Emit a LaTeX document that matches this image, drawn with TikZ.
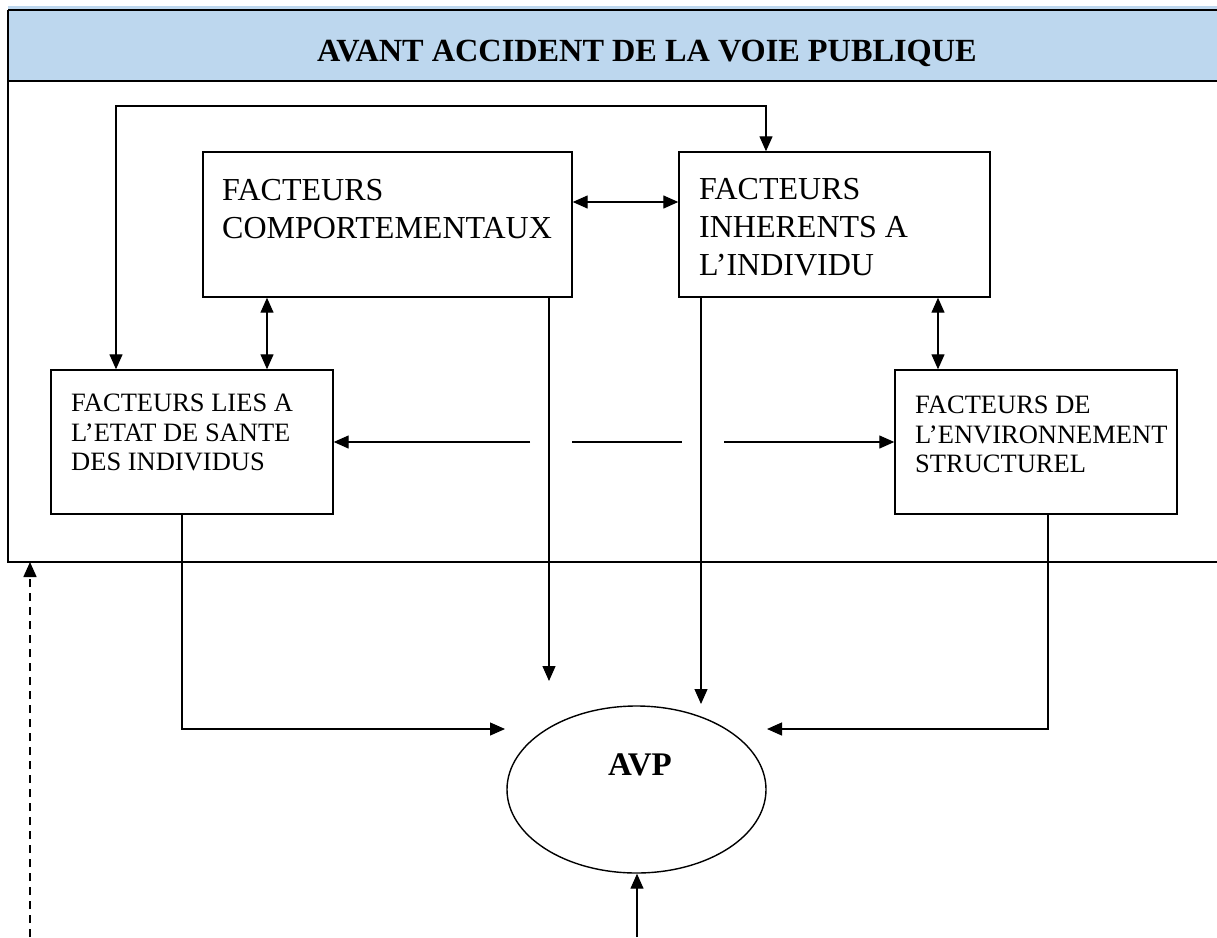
\documentclass[tikz,border=0pt]{standalone}
\usepackage{fontspec}
\setmainfont{Liberation Serif}
\usetikzlibrary{arrows.meta,shapes.geometric,calc}
\definecolor{headblue}{HTML}{BDD7EE}
\begin{document}
\begin{tikzpicture}[x=1pt,y=-1pt,
  >={Triangle[length=15pt,width=13pt]},
  box/.style={draw,line width=1.4pt,minimum width=#1,inner sep=0pt},
  bigtxt/.style={font=\fontsize{32}{38}\selectfont,align=left,inner sep=0pt,anchor=base west},
  smalltxt/.style={font=\fontsize{26.5}{29.5}\selectfont,align=left,inner sep=0pt,anchor=base west},
  conn/.style={line width=1.3pt},
  frameline/.style={line width=1.8pt}]
\useasboundingbox (0,0) rectangle (1217,937);
% header band
\fill[headblue] (8,6) rectangle (1217,80);
\draw[frameline] (8,10) -- (1217,10);
\draw[frameline] (8,81) -- (1217,81);
\draw[frameline] (8,10) -- (8,562) -- (1217,562);
\node[font=\bfseries\fontsize{32.3}{38}\selectfont,anchor=base,inner sep=0pt] (title) at (647,61) {AVANT ACCIDENT DE LA VOIE PUBLIQUE};
% boxes
\node[box=369pt,minimum height=145pt] (comp) at (387.5,224.5) {};
\node[box=311pt,minimum height=145pt] (inh) at (834.5,224.5) {};
\node[box=282pt,minimum height=144pt] (lies) at (192,442) {};
\node[box=282pt,minimum height=144pt] (env) at (1036,442) {};
\node[draw,line width=1.4pt,ellipse,minimum width=259pt,minimum height=167pt,inner sep=0pt] (avp) at (636.5,789.5) {};
% texts
\node[bigtxt] (tcomp) at (222,200) {FACTEURS};
\node[bigtxt] (tcomp2) at (222,238) {COMPORTEMENTAUX};
\node[bigtxt] (tinh) at (699,199) {FACTEURS};
\node[bigtxt] (tinh2) at (699,237) {INHERENTS A};
\node[bigtxt] (tinh3) at (699,275) {L’INDIVIDU};
\node[smalltxt] (tlies) at (71,411) {FACTEURS LIES A};
\node[smalltxt] (tlies2) at (71,441) {L’ETAT DE SANTE};
\node[smalltxt] (tlies3) at (71,470) {DES INDIVIDUS};
\node[smalltxt] (tenv) at (915,413) {FACTEURS DE};
\node[smalltxt] (tenv2) at (915,443) {L’ENVIRONNEMENT};
\node[smalltxt] (tenv3) at (915,472) {STRUCTUREL};
\node[font=\bfseries\fontsize{33}{38}\selectfont,anchor=base,inner sep=0pt] (tavp) at (640,775) {AVP};
% connectors
\coordinate (topL) at (116,106);
\coordinate (topR) at (766,106);
\draw[conn,<->] (lies.north -| topL) -- (topL) -- (topR) -- (inh.north -| topR);
\coordinate (midy) at (0,202);
\draw[conn,<->] (comp.east |- midy) -- (inh.west |- midy);
\coordinate (lx) at (267,0);
\draw[conn,<->] (comp.south -| lx) -- (lies.north -| lx);
\coordinate (rx) at (938,0);
\draw[conn,<->] (inh.south -| rx) -- (env.north -| rx);
\coordinate (h1) at (530,442);
\coordinate (h2a) at (572,442);
\coordinate (h2b) at (682,442);
\coordinate (h3) at (724,442);
\draw[conn,->] (h1) -- (lies.east |- h1);
\draw[conn] (h2a) -- (h2b);
\draw[conn,->] (h3) -- (env.west |- h3);
\coordinate (c1) at (549,681);
\draw[conn,->] (comp.south -| c1) -- (c1);
\coordinate (c2) at (701,704);
\draw[conn,->] (inh.south -| c2) -- (c2);
\coordinate (c3) at (505,729);
\coordinate (x3) at (182,0);
\draw[conn,->] (lies.south -| x3) |- (c3);
\coordinate (c4) at (767,729);
\coordinate (x4) at (1048,0);
\draw[conn,->] (env.south -| x4) |- (c4);
\coordinate (bot) at (637,937);
\draw[conn,->] (bot) -- (avp.south -| bot);
\coordinate (dbot) at (30,937);
\coordinate (dtop) at (30,562);
\draw[line width=1.6pt,dash pattern=on 8pt off 6pt,->] (dbot) -- (dtop);
\end{tikzpicture}
\end{document}
